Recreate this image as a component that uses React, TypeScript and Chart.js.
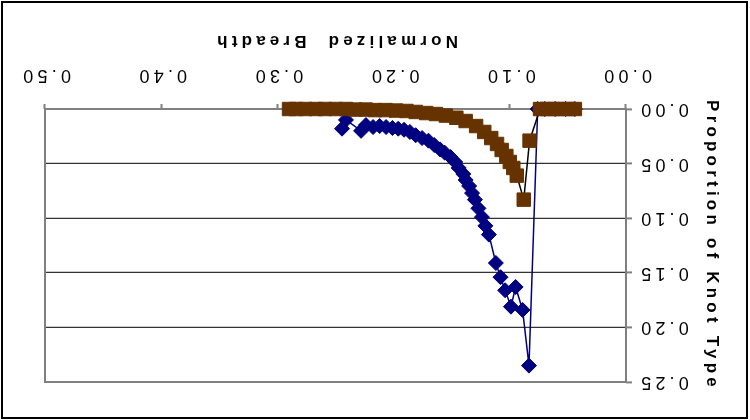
import React, { useEffect, useRef } from 'react';
import { Chart, registerables } from 'chart.js';

Chart.register(...registerables);

// ---- Data ----
const xTickValues = [0, 0.1, 0.2, 0.3, 0.4, 0.5];
const yTickValues = [0, 0.05, 0.1, 0.15, 0.2, 0.25];
const xAxisTitle = 'Normalized  Breadth';
const yAxisTitle = 'Proportion of Knot Type';

// Brown squares series
const brownX = [0.044, 0.05, 0.056, 0.062, 0.068, 0.074, 0.083, 0.088, 0.094, 0.097, 0.1, 0.103, 0.107, 0.111, 0.116, 0.122, 0.129, 0.138, 0.146, 0.155, 0.1635, 0.172, 0.181, 0.189, 0.198, 0.207, 0.216, 0.224, 0.233, 0.241, 0.25, 0.259, 0.267, 0.276, 0.284, 0.29];
const brownY = [0, 0, 0, 0, 0, 0, 0.029, 0.083, 0.061, 0.054, 0.0485, 0.043, 0.0375, 0.032, 0.0266, 0.021, 0.0156, 0.011, 0.008, 0.006, 0.0046, 0.0037, 0.0027, 0.0018, 0.0014, 0.001, 0.001, 0.0005, 0.0005, 0, 0, 0, 0, 0, 0, 0];

// Navy diamonds series
const blueX = [0.044, 0.052, 0.061, 0.07, 0.076, 0.0835, 0.089, 0.095, 0.099, 0.104, 0.108, 0.112, 0.118, 0.121, 0.124, 0.127, 0.13, 0.1325, 0.135, 0.138, 0.14, 0.144, 0.147, 0.151, 0.156, 0.16, 0.165, 0.17, 0.1755, 0.181, 0.186, 0.191, 0.196, 0.201, 0.2065, 0.212, 0.2177, 0.2238, 0.228, 0.241, 0.2444];
const blueY = [0, 0, 0, 0, 0, 0.235, 0.184, 0.163, 0.181, 0.166, 0.154, 0.141, 0.115, 0.107, 0.099, 0.091, 0.083, 0.077, 0.0705, 0.065, 0.0595, 0.054, 0.0485, 0.044, 0.04, 0.037, 0.033, 0.029, 0.0266, 0.024, 0.021, 0.019, 0.018, 0.0174, 0.0165, 0.0156, 0.0165, 0.0147, 0.02, 0.01, 0.018];

const SPACING = '4.2px';

const framePlugin = {
  id: 'frame',
  beforeUpdate(chart: any) {
    chart.ctx.letterSpacing = SPACING;
  },
  beforeDraw(chart: any) {
    const ctx = chart.ctx;
    ctx.save();
    ctx.fillStyle = '#ffffff';
    ctx.fillRect(0, 0, chart.width, chart.height);
    ctx.restore();
    ctx.letterSpacing = SPACING;
  },
  beforeDatasetsDraw(chart: any) {
    const { ctx, chartArea } = chart;
    ctx.save();
    ctx.strokeStyle = '#808080';
    ctx.lineWidth = 2;
    ctx.strokeRect(chartArea.left, chartArea.top, chartArea.right - chartArea.left, chartArea.bottom - chartArea.top);
    ctx.restore();
  },
  afterDraw(chart: any) {
    const ctx = chart.ctx;
    ctx.save();
    ctx.strokeStyle = '#000000';
    ctx.lineWidth = 2;
    ctx.strokeRect(3, 2, chart.width - 5, chart.height - 4);
    ctx.restore();
  },
};

export default function App() {
  const canvasRef = useRef<HTMLCanvasElement>(null);

  useEffect(() => {
    const canvas = canvasRef.current;
    if (!canvas) return;
    const brown = brownX.map((x, i) => ({ x, y: brownY[i] }));
    const blue = blueX.map((x, i) => ({ x, y: blueY[i] }));
    const tickFont = { family: '"Liberation Sans", Arial, sans-serif', size: 18 };
    const titleFont = { family: '"Liberation Sans", Arial, sans-serif', size: 17, weight: 'bold' as const };

    const chart = new Chart(canvas, {
      type: 'scatter',
      data: {
        datasets: [
          {
            data: brown,
            showLine: true,
            borderColor: '#000000',
            borderWidth: 1.5,
            pointStyle: 'rect',
            pointRadius: 9.5,
            pointBackgroundColor: '#663300',
            pointBorderColor: '#663300',
            pointBorderWidth: 1,
            tension: 0,
            clip: false,
          },
          {
            data: blue,
            showLine: true,
            borderColor: '#000080',
            borderWidth: 1.5,
            pointStyle: 'rectRot',
            pointRadius: 7.5,
            pointBackgroundColor: '#000080',
            pointBorderColor: '#000080',
            pointBorderWidth: 1,
            tension: 0,
            clip: false,
          },
        ],
      },
      options: {
        responsive: false,
        animation: false,
        events: [],
        layout: { padding: { left: 0, right: 45, top: 38, bottom: 0 } },
        plugins: {
          legend: { display: false },
          tooltip: { enabled: false },
        },
        scales: {
          x: {
            type: 'linear',
            min: 0,
            max: 0.5,
            afterBuildTicks: (scale: any) => {
              scale.ticks = xTickValues.map((v) => ({ value: v }));
            },
            afterFit: (scale: any) => {
              scale.height = 109;
            },
            ticks: {
              font: tickFont,
              color: '#000000',
              padding: 18.5,
              maxRotation: 0,
              callback: (v: any) => Number(v).toFixed(2),
            },
            grid: {
              drawOnChartArea: false,
              drawTicks: true,
              tickLength: 5,
              tickColor: '#808080',
              tickWidth: 2,
            },
            border: { display: false },
            title: {
              display: true,
              text: xAxisTitle,
              font: titleFont,
              color: '#000000',
              padding: { top: 0, bottom: 30 },
            },
          },
          y: {
            type: 'linear',
            min: 0,
            max: 0.25,
            afterBuildTicks: (scale: any) => {
              scale.ticks = yTickValues.map((v) => ({ value: v }));
            },
            afterFit: (scale: any) => {
              scale.width = 124;
            },
            ticks: {
              font: tickFont,
              color: '#000000',
              padding: 5,
              callback: (v: any) => Number(v).toFixed(2),
            },
            grid: {
              drawOnChartArea: true,
              drawTicks: true,
              tickLength: 6,
              color: '#333333',
              lineWidth: 1.2,
              tickColor: '#808080',
              tickWidth: 2,
            },
            border: { display: false },
            title: {
              display: true,
              text: yAxisTitle,
              font: titleFont,
              color: '#000000',
              padding: { top: 28, bottom: 0 },
            },
          },
        },
      },
      plugins: [framePlugin],
    } as any);

    return () => chart.destroy();
  }, []);

  return (
    <div
      style={{
        position: 'fixed',
        left: 0,
        top: 0,
        width: 750,
        height: 420,
        transform: 'rotate(180deg)',
        background: '#ffffff',
      }}
    >
      <canvas ref={canvasRef} width={750} height={420} style={{ display: 'block', width: 750, height: 420 }} />
    </div>
  );
}
